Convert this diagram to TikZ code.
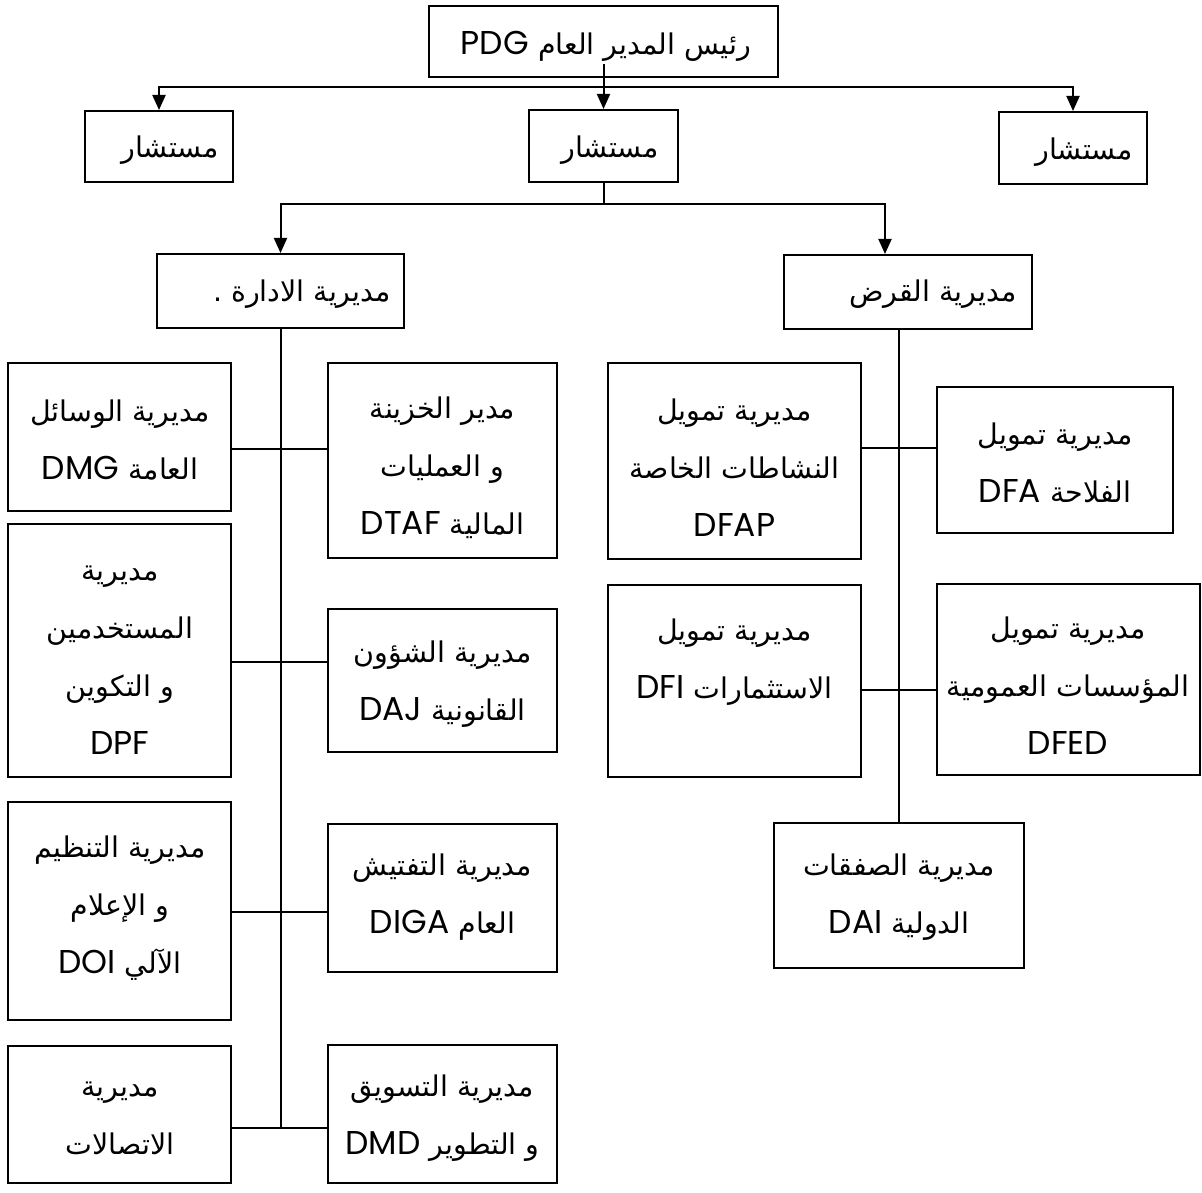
\documentclass[tikz,border=0pt]{standalone}
\usepackage{fontspec}
\TeXXeTstate=1
\newfontfamily\arabicfont[Script=Arabic]{DejaVu Sans}
\newfontfamily\latinf{Poppins}
\usetikzlibrary{fit,arrows.meta}
\newcommand\arl[1]{\beginR #1\endR}
\newcommand\lat[1]{\beginL{\latinf\fontsize{33}{58}\selectfont #1}\endL}
\tikzset{
  box/.style={draw, line width=2pt, inner sep=0pt},
  lbl/.style={font=\arabicfont\fontsize{28.5}{58}\selectfont, align=center, inner sep=0pt},
  conn/.style={line width=2pt},
  arr/.style={conn, -{Triangle[length=15pt,width=13pt]}},
}
\begin{document}
\begin{tikzpicture}[x=1pt,y=-1pt]
\useasboundingbox (0,0) rectangle (1202,1193);
\fill[white] (0,0) rectangle (1202,1193);

% boxes
\node[box, fit={(429,6)(778,77)}] (PDG) {};
\node[box, fit={(85,111)(233,182)}] (M1) {};
\node[box, fit={(529,110)(678,182)}] (M2) {};
\node[box, fit={(999,112)(1147,184)}] (M3) {};
\node[box, fit={(157,254)(404,328)}] (ADM) {};
\node[box, fit={(784,255)(1032,329)}] (QRD) {};
\node[box, fit={(8,363)(231,511)}] (DMG) {};
\node[box, fit={(328,363)(557,558)}] (DTAF) {};
\node[box, fit={(8,524)(231,777)}] (DPF) {};
\node[box, fit={(328,609)(557,752)}] (DAJ) {};
\node[box, fit={(8,802)(231,1020)}] (DOI) {};
\node[box, fit={(328,824)(557,972)}] (DIGA) {};
\node[box, fit={(8,1046)(231,1183)}] (COMM) {};
\node[box, fit={(328,1045)(557,1183)}] (DMD) {};
\node[box, fit={(608,363)(861,559)}] (DFAP) {};
\node[box, fit={(937,387)(1173,533)}] (DFA) {};
\node[box, fit={(608,585)(861,777)}] (DFI) {};
\node[box, fit={(937,584)(1200,775)}] (DFED) {};
\node[box, fit={(774,823)(1024,968)}] (DAI) {};

% texts
\node[lbl] (PDG-t) at (606,46) {\arl{رئيس المدير العام \lat{PDG}}};
\node[lbl] (M1-t) at (170,150) {\arl{مستشار}};
\node[lbl] (M2-t) at (610,150) {\arl{مستشار}};
\node[lbl] (M3-t) at (1084,152) {\arl{مستشار}};
\node[lbl] (ADM-t) at (302,294) {\arl{مديرية الادارة .}};
\node[lbl] (QRD-t) at (933,294) {\arl{مديرية القرض}};
\node[lbl] (DMG-t) at (120,440) {\arl{مديرية الوسائل}\\\arl{العامة \lat{DMG}}};
\node[lbl] (DTAF-t) at (442.5,468) {\arl{مدير الخزينة}\\\arl{و العمليات}\\\arl{المالية \lat{DTAF}}};
\node[lbl] (DPF-t) at (120,660) {\arl{مديرية}\\\arl{المستخدمين}\\\arl{و التكوين}\\\lat{DPF}};
\node[lbl] (DAJ-t) at (442.5,684) {\arl{مديرية الشؤون}\\\arl{القانونية \lat{DAJ}}};
\node[lbl] (DOI-t) at (120,908) {\arl{مديرية التنظيم}\\\arl{و الإعلام}\\\arl{الآلي \lat{DOI}}};
\node[lbl] (DIGA-t) at (442.5,897) {\arl{مديرية التفتيش}\\\arl{العام \lat{DIGA}}};
\node[lbl] (COMM-t) at (120,1118) {\arl{مديرية}\\\arl{الاتصالات}};
\node[lbl] (DMD-t) at (442.5,1118) {\arl{مديرية التسويق}\\\arl{و التطوير \lat{DMD}}};
\node[lbl] (DFAP-t) at (734.5,468) {\arl{مديرية تمويل}\\\arl{النشاطات الخاصة}\\\lat{DFAP}};
\node[lbl] (DFA-t) at (1055,463) {\arl{مديرية تمويل}\\\arl{الفلاحة \lat{DFA}}};
\node[lbl] (DFI-t) at (734.5,662) {\arl{مديرية تمويل}\\\arl{الاستثمارات \lat{DFI}}};
\node[lbl] (DFED-t) at (1068,686) {\arl{مديرية تمويل}\\\arl{المؤسسات العمومية}\\\lat{DFED}};
\node[lbl] (DAI-t) at (899,897) {\arl{مديرية الصفقات}\\\arl{الدولية \lat{DAI}}};

% top connectors
\coordinate (t1) at (603.5,87);
\draw[arr] ([yshift=14pt]PDG.south) -- (M2.north);
\draw[arr] (t1) -| (M1.north);
\draw[arr] (t1) -| (M3.north);
\coordinate (t2) at (603.5,204);
\draw[conn] (M2.south) -- (t2);
\draw[arr] (t2) -| (ADM.north);
\draw[arr] (t2) -| ([xshift=-23pt]QRD.north);

% administration trunk
\coordinate (a1) at (280.5,449);
\coordinate (a2) at (280.5,662);
\coordinate (a3) at (280.5,912);
\coordinate (a4) at (280.5,1128);
\draw[conn] (ADM.south) -- (a4);
\draw[conn] (DMG.east |- a1) -- (DTAF.west |- a1);
\draw[conn] (DPF.east |- a2) -- (DAJ.west |- a2);
\draw[conn] (DOI.east |- a3) -- (DIGA.west |- a3);
\draw[conn] (COMM.east |- a4) -- (DMD.west |- a4);

% credit trunk
\coordinate (q1) at (899,448);
\coordinate (q2) at (899,690);
\draw[conn] (QRD.south -| DAI.north) -- (DAI.north);
\draw[conn] (DFAP.east |- q1) -- (DFA.west |- q1);
\draw[conn] (DFI.east |- q2) -- (DFED.west |- q2);
\end{tikzpicture}
\end{document}
